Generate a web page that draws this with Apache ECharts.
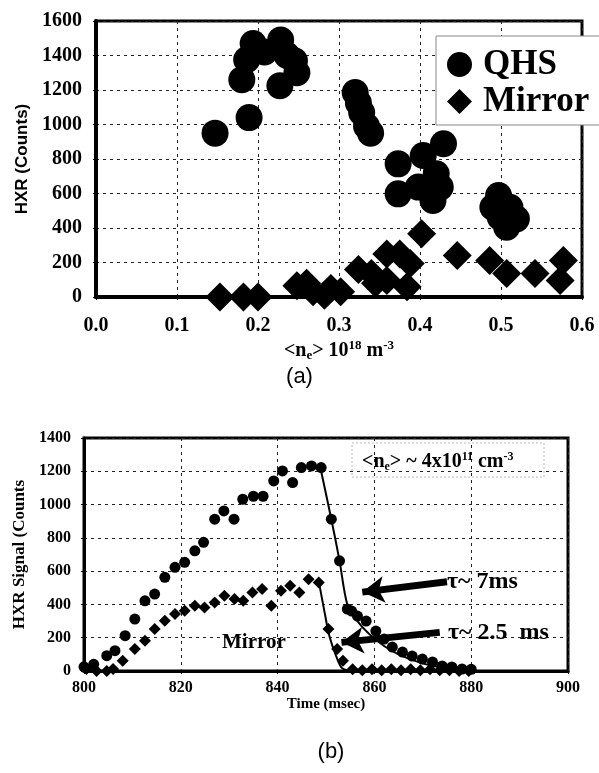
<!DOCTYPE html>
<html>
<head>
<meta charset="utf-8">
<script src="https://cdn.jsdelivr.net/npm/echarts@6/dist/echarts.min.js"></script>
<style>
  html, body { margin: 0; padding: 0; background: #fff; }
  #chart { width: 599px; height: 773px; }
</style>
</head>
<body>
<div id="chart"></div>
<script>
// ---- (a) HXR counts versus line-averaged density ----
const densityQHS = [0.147, 0.189, 0.180, 0.186, 0.194, 0.208, 0.228, 0.227, 0.236, 0.245, 0.248,
                    0.320, 0.324, 0.328, 0.334, 0.339,
                    0.373, 0.373, 0.398, 0.404, 0.420, 0.425, 0.416, 0.429,
                    0.497, 0.490, 0.499, 0.511, 0.519, 0.507];
const countsQHS  = [950, 1040, 1260, 1375, 1470, 1420, 1490, 1225, 1400, 1370, 1300,
                    1185, 1125, 1070, 990, 950,
                    772, 598, 637, 820, 714, 637, 560, 888,
                    588, 520, 463, 520, 453, 405];

const densityMirror = [0.153, 0.182, 0.200, 0.248, 0.260, 0.268, 0.282, 0.290, 0.302,
                       0.324, 0.340, 0.345, 0.359, 0.375, 0.388, 0.359, 0.384,
                       0.402, 0.446, 0.486, 0.507, 0.542, 0.577, 0.573];
const countsMirror  = [0, 0, 0, 65, 80, 30, 10, 50, 30,
                       160, 136, 80, 250, 250, 194, 96, 60,
                       367, 240, 211, 136, 136, 211, 96];

const densityTickLabels = ['0.0', '0.1', '0.2', '0.3', '0.4', '0.5', '0.6'];
const countTickLabels = ['0', '200', '400', '600', '800', '1000', '1200', '1400', '1600'];

// ---- (b) HXR signal time traces ----
const timeQHS   = [800, 802, 804.7, 806.4, 808.5, 810.5, 812.6, 814.6, 816.7, 818.8, 820.8, 822.9,
                   824.7, 827, 828.9, 831, 832.8, 835, 837, 839.2, 841, 843.1, 844.9, 847, 849,
                   851.1, 852.8, 854.4, 855.3, 856.5, 858.3, 860.3, 862, 863.7, 865.8, 867.8,
                   869.9, 872, 874, 876, 878.1, 880];
const signalQHS = [25, 40, 92, 122, 212, 312, 422, 462, 563, 623, 653, 722,
                   773, 912, 962, 912, 1032, 1050, 1050, 1142, 1202, 1132, 1222, 1232, 1222,
                   912, 662, 372, 360, 330, 300, 240, 192, 144, 114, 90,
                   72, 54, 30, 24, 12, 10];

const timeMirror   = [800.5, 802.6, 804.7, 806, 808, 810.5, 812.6, 814.6, 816.7, 818.8, 820.8,
                      822.9, 824.9, 827, 829, 831.1, 832.9, 834.8, 836.8, 838.7, 840.7, 842.6,
                      844.5, 846.4, 848.5, 850.5, 852.3, 853.5, 855.5, 857.5, 859.5, 861.5,
                      863.5, 865.5, 867.5, 869.5, 871.5, 873.5, 875.5, 877.5, 879.5];
const signalMirror = [12, 0, 0, 12, 62, 132, 182, 252, 302, 342, 362,
                      392, 382, 412, 452, 432, 422, 472, 492, 392, 482, 512,
                      472, 552, 532, 252, 132, 62, 10, 5, 10, 5,
                      10, 5, 10, 5, 10, 5, 5, 0, 0];

// exponential decay fits drawn through the falling edge
const fitTimeQHS   = [849, 851.1, 852.8, 854.4, 856.5, 859, 862, 865, 869, 874, 880];
const fitQHS       = [1200, 912, 662, 400, 300, 220, 150, 100, 55, 20, 4];
const fitTimeMirror = [848.5, 849.7, 850.7, 852.1, 853.4, 856];
const fitMirror     = [540, 354, 210, 90, 15, 0];

// annotation arrows, in (msec, counts)
const arrowTau7  = [[875, 536], [857.5, 474]];
const arrowTau25 = [[873.5, 232], [853.2, 172]];

const timeTickLabels = ['800', '820', '840', '860', '880', '900'];
const signalTickLabels = ['0', '200', '400', '600', '800', '1000', '1200', '1400'];

const zip = (xs, ys) => xs.map((x, i) => [x, ys[i]]);

const SERIF = '"Liberation Serif", "DejaVu Serif", serif';
const SANS = '"Liberation Sans", Arial, sans-serif';

const gridLine = { show: true, lineStyle: { color: '#222', width: 1, type: [3, 4] } };
const solidBlack = { color: '#000', opacity: 1, borderWidth: 0 };

const chart = echarts.init(document.getElementById('chart'), null, { renderer: 'canvas' });

chart.setOption({
  backgroundColor: '#ffffff',
  animation: false,
  grid: [
    { left: 96, right: 17, top: 21, bottom: 476, show: true, borderColor: '#000', borderWidth: 3,
      backgroundColor: 'transparent', containLabel: false, outerBoundsMode: 'none' },
    { left: 84, right: 31, top: 438, bottom: 102, show: true, borderColor: '#000', borderWidth: 3,
      backgroundColor: 'transparent', containLabel: false, outerBoundsMode: 'none' }
  ],
  legend: {
    data: [{ name: 'QHS', icon: 'circle' }, { name: 'Mirror', icon: 'diamond' }],
    orient: 'vertical',
    left: 436, top: 36,
    itemWidth: 25, itemHeight: 25, itemGap: 2,
    padding: [11, 30, 6, 11],
    backgroundColor: '#fff',
    borderColor: '#888', borderWidth: 1,
    selectedMode: false,
    itemStyle: { color: '#000', opacity: 1 },
    textStyle: { fontFamily: SERIF, fontWeight: 'bold', fontSize: 35, color: '#000', padding: [0, 0, 0, 6] },
    z: 10
  },
  xAxis: [
    {
      gridIndex: 0, type: 'value', min: 0, max: 0.6, interval: 0.1,
      axisLine: { show: true, onZero: false, lineStyle: { color: '#000', width: 4 } },
      axisTick: { show: true, length: 3, lineStyle: { color: '#000', width: 1 } },
      axisLabel: { margin: 19, fontFamily: SERIF, fontWeight: 'bold', fontSize: 20, color: '#000',
                   formatter: v => densityTickLabels[Math.round(v * 10)] },
      splitLine: gridLine,
      name: '{t|<n}{s|e}{t|> 10}{p|18}{t| m}{p|-3}',
      nameLocation: 'middle', nameGap: 42,
      nameTextStyle: {
        rich: {
          t: { fontFamily: SERIF, fontWeight: 'bold', fontSize: 20, color: '#000' },
          s: { fontFamily: SERIF, fontWeight: 'bold', fontSize: 13, color: '#000', padding: [9, 0, 0, 0] },
          p: { fontFamily: SERIF, fontWeight: 'bold', fontSize: 13, color: '#000', padding: [0, 0, 11, 0] }
        }
      }
    },
    {
      gridIndex: 1, type: 'value', min: 800, max: 900, interval: 20,
      axisLine: { show: true, onZero: false, lineStyle: { color: '#000', width: 3 } },
      axisTick: { show: true, length: 3, lineStyle: { color: '#000', width: 1 } },
      axisLabel: { margin: 9, fontFamily: SERIF, fontWeight: 'bold', fontSize: 16, color: '#000',
                   formatter: v => timeTickLabels[Math.round((v - 800) / 20)] },
      splitLine: gridLine,
      name: 'Time (msec)', nameLocation: 'middle', nameGap: 23,
      nameTextStyle: { fontFamily: SERIF, fontWeight: 'bold', fontSize: 15, color: '#000' }
    }
  ],
  yAxis: [
    {
      gridIndex: 0, type: 'value', min: 0, max: 1600, interval: 200,
      axisLine: { show: true, onZero: false, lineStyle: { color: '#000', width: 4 } },
      axisTick: { show: true, length: 3, lineStyle: { color: '#000', width: 1 } },
      axisLabel: { margin: 14, fontFamily: SERIF, fontWeight: 'bold', fontSize: 20, color: '#000',
                   formatter: v => countTickLabels[Math.round(v / 200)] },
      splitLine: gridLine,
      name: 'HXR (Counts)', nameLocation: 'middle', nameRotate: 90, nameGap: 65,
      nameTextStyle: { fontFamily: SANS, fontWeight: 'bold', fontSize: 17, color: '#000' }
    },
    {
      gridIndex: 1, type: 'value', min: 0, max: 1400, interval: 200,
      axisLine: { show: true, onZero: false, lineStyle: { color: '#000', width: 3 } },
      axisTick: { show: true, length: 3, lineStyle: { color: '#000', width: 1 } },
      axisLabel: { margin: 13, fontFamily: SERIF, fontWeight: 'bold', fontSize: 16, color: '#000',
                   formatter: v => signalTickLabels[Math.round(v / 200)] },
      splitLine: gridLine,
      name: 'HXR Signal (Counts', nameLocation: 'middle', nameRotate: 90, nameGap: 52,
      nameTextStyle: { fontFamily: SERIF, fontWeight: 'bold', fontSize: 17, color: '#000' }
    }
  ],
  series: [
    {
      name: 'QHS', type: 'scatter', xAxisIndex: 0, yAxisIndex: 0,
      symbol: 'circle', symbolSize: 27, itemStyle: solidBlack, emphasis: { disabled: true },
      data: zip(densityQHS, countsQHS), z: 3
    },
    {
      name: 'Mirror', type: 'scatter', xAxisIndex: 0, yAxisIndex: 0,
      symbol: 'diamond', symbolSize: 29, itemStyle: solidBlack, emphasis: { disabled: true },
      data: zip(densityMirror, countsMirror), z: 3
    },
    {
      name: 'QHS signal', type: 'scatter', xAxisIndex: 1, yAxisIndex: 1,
      symbol: 'circle', symbolSize: 11, itemStyle: solidBlack, emphasis: { disabled: true },
      data: zip(timeQHS, signalQHS), z: 3
    },
    {
      name: 'Mirror signal', type: 'scatter', xAxisIndex: 1, yAxisIndex: 1,
      symbol: 'diamond', symbolSize: 12, itemStyle: solidBlack, emphasis: { disabled: true },
      data: zip(timeMirror, signalMirror), z: 3
    },
    {
      name: 'QHS decay', type: 'line', xAxisIndex: 1, yAxisIndex: 1,
      smooth: 0.3, showSymbol: false, symbol: 'none',
      lineStyle: { color: '#000', width: 2, opacity: 1 },
      data: zip(fitTimeQHS, fitQHS), z: 4,
      markLine: {
        silent: true, symbol: ['none', 'arrow'], symbolSize: [20, 22],
        label: { show: false },
        lineStyle: { color: '#000', width: 7, type: 'solid', opacity: 1 },
        data: [[{ coord: arrowTau7[0] }, { coord: arrowTau7[1] }]]
      }
    },
    {
      name: 'Mirror decay', type: 'line', xAxisIndex: 1, yAxisIndex: 1,
      smooth: 0.3, showSymbol: false, symbol: 'none',
      lineStyle: { color: '#000', width: 2, opacity: 1 },
      data: zip(fitTimeMirror, fitMirror), z: 4,
      markLine: {
        silent: true, symbol: ['none', 'arrow'], symbolSize: [20, 22],
        label: { show: false },
        lineStyle: { color: '#000', width: 7, type: 'solid', opacity: 1 },
        data: [[{ coord: arrowTau25[0] }, { coord: arrowTau25[1] }]]
      }
    }
  ],
  graphic: [
    { type: 'text', left: 'center', top: 366, style: { text: '(a)', font: '22px ' + SANS, fill: '#000' } },
    { type: 'text', x: 331, y: 752, style: { text: '(b)', font: '22px ' + SANS, fill: '#000', align: 'center', verticalAlign: 'middle' } },
    { type: 'rect', shape: { x: 352, y: 443, width: 192, height: 34 },
      style: { fill: 'none', stroke: '#bbb', lineWidth: 1, lineDash: [2, 2] }, z: 5 },
    { type: 'text', x: 362, y: 462, z: 6,
      style: {
        text: '{t|<n}{s|e}{t|> ~ 4x10}{p|11}{t| cm}{p|-3}', verticalAlign: 'middle',
        rich: {
          t: { font: 'bold 20px ' + SERIF, fill: '#000' },
          s: { font: 'bold 12px ' + SERIF, fill: '#000', padding: [9, 0, 0, 0] },
          p: { font: 'bold 12px ' + SERIF, fill: '#000', padding: [0, 0, 11, 0] }
        }
      }
    },
    { type: 'text', x: 447, y: 582, z: 6, style: { text: 'τ~ 7ms', font: 'bold 24px ' + SERIF, fill: '#000', verticalAlign: 'middle' } },
    { type: 'text', x: 448, y: 633, z: 6, style: { text: 'τ~ 2.5  ms', font: 'bold 24px ' + SERIF, fill: '#000', verticalAlign: 'middle' } },
    { type: 'text', x: 222, y: 643, z: 6, style: { text: 'Mirror', font: 'bold 21px ' + SERIF, fill: '#000', verticalAlign: 'middle' } }
  ]
});
</script>
</body>
</html>
